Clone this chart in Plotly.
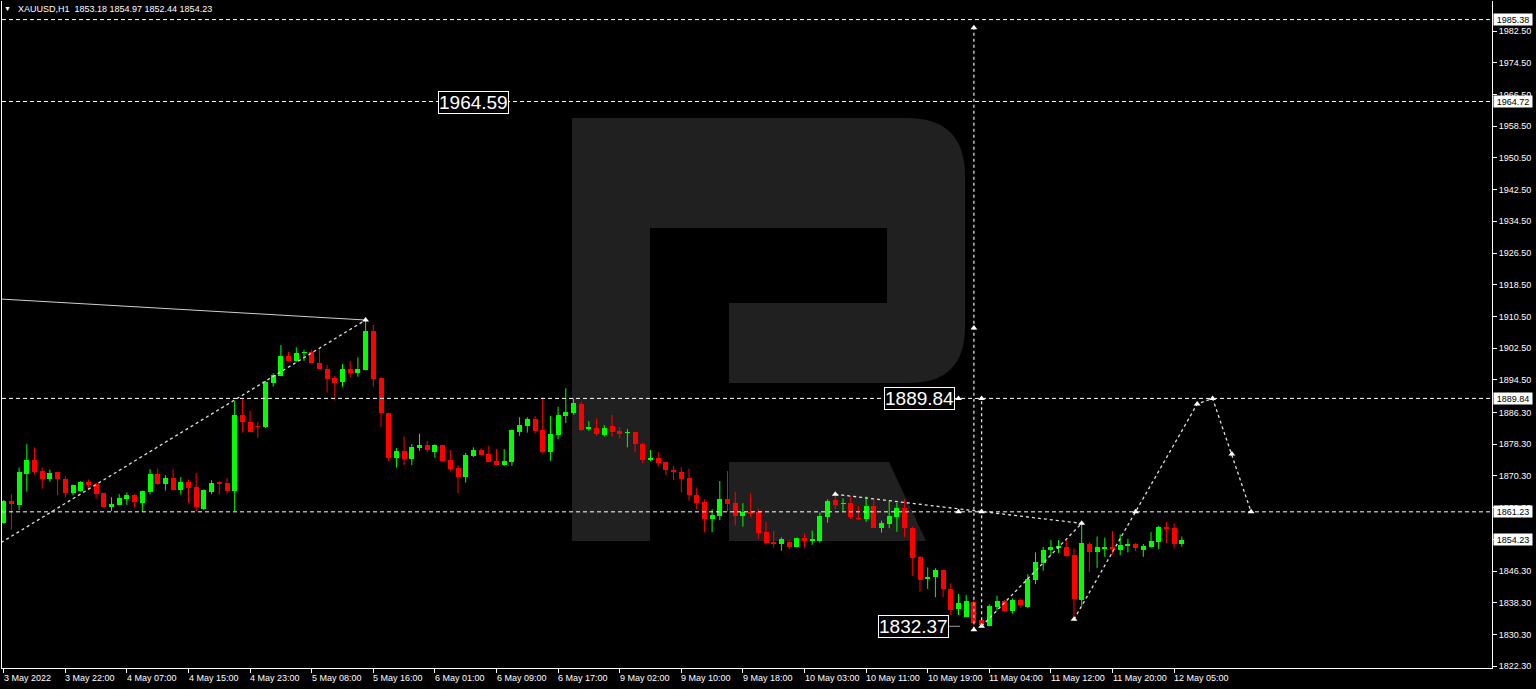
import plotly.graph_objects as go

# ---------------- data ----------------
opens = [1858.4, 1863.9, 1863.0, 1870.8, 1874.3, 1871.6, 1869.5, 1871.2, 1869.6, 1866.0,
         1866.6, 1868.8, 1868.3, 1865.9, 1862.5, 1863.0, 1864.4, 1865.6, 1863.5, 1866.2,
         1870.7, 1868.3, 1869.8, 1866.8, 1868.8, 1867.5, 1861.9, 1866.2, 1868.8, 1868.5,
         1866.6, 1885.7, 1883.8, 1883.0, 1882.6, 1893.8, 1895.5, 1900.5, 1899.3, 1901.2,
         1901.6, 1898.8, 1897.3, 1895.0, 1894.0, 1897.3, 1896.2, 1897.0, 1906.8, 1895.0,
         1886.1, 1874.9, 1876.6, 1874.6, 1877.3, 1878.0, 1876.3, 1878.0, 1874.3, 1872.4,
         1870.0, 1875.3, 1876.8, 1875.8, 1874.1, 1873.0, 1873.8, 1881.4, 1882.9, 1884.7,
         1881.9, 1876.3, 1880.7, 1885.5, 1886.2, 1888.4, 1882.1, 1882.4, 1880.7, 1882.9,
         1881.6, 1881.0, 1881.3, 1878.3, 1874.3, 1874.9, 1873.8, 1871.8, 1871.4, 1869.8,
         1865.6, 1863.7, 1859.4, 1860.3, 1864.5, 1863.5, 1860.3, 1861.1, 1861.1, 1856.1,
         1853.7, 1853.0, 1853.6, 1852.4, 1854.6, 1853.9, 1853.9, 1860.0, 1864.2, 1863.1,
         1863.4, 1859.8, 1859.4, 1862.7, 1857.2, 1858.1, 1860.0, 1862.3, 1857.1, 1849.8,
         1844.3, 1844.9, 1846.6, 1841.8, 1836.7, 1834.7, 1838.6, 1833.9, 1832.5, 1837.3,
         1838.7, 1836.2, 1839.0, 1837.3, 1844.0, 1848.4, 1851.6, 1852.2, 1852.4, 1850.3,
         1839.0, 1853.1, 1851.0, 1851.9, 1852.4, 1851.6, 1852.7, 1853.0, 1851.6, 1852.4,
         1853.7, 1857.5, 1857.2, 1853.18]
highs = [1864.2, 1865.7, 1872.4, 1878.3, 1877.5, 1872.4, 1871.9, 1871.3, 1870.2, 1868.1,
         1869.0, 1869.4, 1868.5, 1866.1, 1864.9, 1865.7, 1866.1, 1865.7, 1866.6, 1872.0,
         1872.1, 1870.5, 1871.9, 1870.0, 1869.4, 1871.0, 1866.9, 1869.2, 1868.9, 1869.8,
         1889.2, 1889.9, 1886.7, 1883.9, 1894.2, 1896.2, 1903.3, 1901.6, 1902.7, 1902.1,
         1902.2, 1902.2, 1898.3, 1895.5, 1898.5, 1899.3, 1900.2, 1909.6, 1908.4, 1895.2,
         1886.2, 1877.3, 1880.2, 1878.3, 1880.9, 1879.1, 1878.3, 1878.1, 1876.8, 1873.0,
         1876.1, 1877.5, 1877.3, 1877.9, 1877.1, 1877.1, 1882.0, 1885.1, 1885.1, 1885.4,
         1890.1, 1885.4, 1887.7, 1892.4, 1889.9, 1889.0, 1884.1, 1884.8, 1883.1, 1885.7,
         1882.6, 1882.1, 1881.4, 1878.7, 1876.8, 1876.3, 1873.9, 1872.8, 1872.5, 1872.1,
         1867.2, 1864.4, 1861.9, 1869.0, 1871.5, 1866.3, 1863.4, 1865.9, 1861.9, 1858.7,
         1856.4, 1854.8, 1854.1, 1854.7, 1855.8, 1856.5, 1861.1, 1864.4, 1865.7, 1864.6,
         1865.2, 1862.7, 1865.1, 1864.2, 1859.0, 1864.0, 1863.5, 1864.4, 1857.5, 1850.1,
         1847.2, 1847.0, 1846.7, 1843.2, 1840.5, 1840.3, 1839.0, 1834.3, 1837.9, 1840.1,
         1839.0, 1839.4, 1839.4, 1845.5, 1851.0, 1852.4, 1854.1, 1854.1, 1854.1, 1852.0,
         1858.3, 1853.5, 1855.0, 1854.7, 1856.4, 1855.6, 1854.4, 1853.3, 1853.1, 1856.1,
         1857.7, 1858.7, 1858.3, 1854.97]
lows = [1858.2, 1856.7, 1861.7, 1866.3, 1870.7, 1867.1, 1868.8, 1865.4, 1864.9, 1865.4,
        1866.3, 1866.7, 1864.6, 1862.4, 1861.4, 1862.9, 1863.0, 1862.3, 1861.2, 1865.6,
        1868.0, 1866.6, 1866.6, 1865.6, 1863.4, 1861.4, 1861.7, 1865.7, 1865.6, 1865.7,
        1861.4, 1881.2, 1881.3, 1879.9, 1882.4, 1892.8, 1895.4, 1899.1, 1899.1, 1899.3,
        1898.7, 1897.2, 1891.3, 1889.3, 1892.8, 1895.1, 1895.3, 1896.9, 1892.8, 1882.6,
        1874.0, 1872.4, 1873.0, 1873.0, 1876.6, 1876.3, 1874.9, 1873.9, 1871.4, 1865.9,
        1868.6, 1875.1, 1875.5, 1873.8, 1872.9, 1872.8, 1872.8, 1880.4, 1881.2, 1881.0,
        1876.0, 1874.1, 1879.5, 1883.6, 1885.7, 1881.6, 1881.6, 1880.4, 1880.2, 1880.2,
        1879.7, 1877.5, 1876.3, 1873.5, 1874.0, 1872.6, 1870.5, 1869.3, 1866.1, 1864.0,
        1861.9, 1856.0, 1856.1, 1859.1, 1861.3, 1857.8, 1857.5, 1859.9, 1854.4, 1853.0,
        1852.2, 1851.4, 1851.9, 1852.3, 1852.2, 1852.9, 1853.5, 1858.5, 1861.9, 1861.4,
        1859.4, 1859.1, 1858.7, 1857.1, 1856.0, 1857.1, 1856.2, 1854.8, 1845.1, 1841.1,
        1841.8, 1839.7, 1839.7, 1835.2, 1835.2, 1834.6, 1832.6, 1832.37, 1832.4, 1836.3,
        1836.0, 1835.6, 1837.1, 1837.0, 1843.0, 1846.4, 1850.3, 1850.9, 1849.9, 1834.1,
        1837.5, 1846.1, 1847.1, 1849.9, 1850.5, 1850.3, 1851.0, 1851.3, 1849.9, 1852.2,
        1851.8, 1853.4, 1852.0, 1852.44]
closes = [1864.0, 1863.3, 1871.2, 1874.3, 1871.4, 1869.5, 1871.1, 1869.4, 1866.0, 1867.9,
          1868.8, 1868.1, 1865.8, 1862.5, 1863.3, 1864.6, 1865.6, 1863.7, 1866.5, 1870.7,
          1868.3, 1869.8, 1866.7, 1868.8, 1867.3, 1862.5, 1866.7, 1868.5, 1868.3, 1866.6,
          1885.7, 1883.9, 1881.4, 1882.6, 1894.0, 1895.7, 1900.5, 1899.3, 1901.3, 1901.5,
          1898.8, 1897.3, 1894.8, 1893.8, 1897.3, 1896.2, 1897.3, 1906.8, 1894.7, 1886.1,
          1874.9, 1876.6, 1874.6, 1877.6, 1878.0, 1876.8, 1878.0, 1874.1, 1872.1, 1870.0,
          1875.6, 1876.8, 1875.6, 1873.9, 1873.0, 1874.1, 1881.9, 1883.1, 1884.7, 1881.6,
          1876.3, 1880.9, 1885.7, 1886.4, 1888.8, 1881.9, 1882.6, 1880.9, 1882.4, 1881.4,
          1880.9, 1881.4, 1878.3, 1874.3, 1874.9, 1873.6, 1871.7, 1871.3, 1869.5, 1865.4,
          1863.4, 1859.4, 1860.5, 1864.5, 1863.2, 1860.3, 1861.1, 1860.8, 1855.9, 1853.3,
          1853.2, 1854.3, 1852.4, 1854.6, 1853.8, 1854.3, 1860.2, 1864.0, 1863.0, 1863.5,
          1859.9, 1859.4, 1862.7, 1857.2, 1858.3, 1860.2, 1862.1, 1857.1, 1849.7, 1844.0,
          1844.9, 1846.6, 1841.7, 1836.5, 1838.2, 1838.7, 1833.3, 1832.8, 1837.5, 1838.7,
          1836.2, 1839.0, 1837.7, 1844.3, 1848.7, 1851.6, 1852.3, 1852.7, 1850.1, 1839.2,
          1853.4, 1851.0, 1852.3, 1852.4, 1851.8, 1852.9, 1853.0, 1852.0, 1852.7, 1853.9,
          1857.3, 1857.0, 1853.2, 1854.23]

time_labels = ["3 May 2022", "3 May 22:00", "4 May 07:00", "4 May 15:00", "4 May 23:00",
               "5 May 08:00", "5 May 16:00", "6 May 01:00", "6 May 09:00", "6 May 17:00",
               "9 May 02:00", "9 May 10:00", "9 May 18:00", "10 May 03:00", "10 May 11:00",
               "10 May 19:00", "11 May 04:00", "11 May 12:00", "11 May 20:00", "12 May 05:00"]
bars_per_label = 8

price_ticks = [1982.50, 1974.50, 1966.50, 1958.50, 1950.50, 1942.50, 1934.50, 1926.50,
               1918.50, 1910.50, 1902.50, 1894.50, 1886.30, 1878.30, 1870.30, 1862.30,
               1854.30, 1846.30, 1838.30, 1830.30, 1822.30]

level_lines = [1985.38, 1964.72, 1889.84, 1861.23]
last_price = 1854.23
title_text = "XAUUSD,H1\u00a0\u00a01853.18 1854.97 1852.44 1854.23"

# drawn objects (bar index, price)
solid_trend_x = [-1, 47]
solid_trend_y = [1914.97, 1909.61]
up_trend_x = [-1, 47]
up_trend_y = [1852.7, 1909.61]
down_trend_x = [108, 140]
down_trend_y = [1865.65, 1858.33]
rebound_x = [127, 140]
rebound_y = [1832.37, 1858.33]
forecast_x = [139, 155, 157, 162]
forecast_y = [1834.12, 1888.43, 1889.84, 1861.23]
vline1_x = [126, 126]
vline1_y = [1831.5, 1983.3]
vline2_x = [127, 127]
vline2_y = [1832.37, 1889.84]
arrow_x = [47, 108, 124, 127, 140, 127, 126, 127, 124, 126, 126, 139, 147, 155, 157, 159.5, 162]
arrow_y = [1909.61, 1865.65, 1861.23, 1861.23, 1858.33, 1832.37, 1831.5, 1889.84, 1889.84,
           1907.6, 1983.3, 1834.12, 1861.23, 1888.43, 1889.84, 1875.8, 1861.23]

text_labels = ["1964.59", "1889.84", "1832.37"]
text_label_x = [61.0, 118.9, 118.1]
text_label_y = [1964.59, 1889.84, 1832.37]

# ---------------- geometry ----------------
W, H = 1536, 689
PL, PR, PT, PB = 2, 1492, 1, 668
BAR0_PX, BAR_STEP = 3.7, 7.7
x_range = [(PL - BAR0_PX) / BAR_STEP, (PR - BAR0_PX) / BAR_STEP]
PX_PER_UNIT = 3.965
REF_PRICE, REF_PY = 1982.5, 31
y_range = [REF_PRICE - (PB - REF_PY) / PX_PER_UNIT, REF_PRICE + (REF_PY - PT) / PX_PER_UNIT]

FONT = "Liberation Sans, Arial, sans-serif"
GREEN, RED = "#00ff00", "#ff0000"

fig = go.Figure()


def P(px, py):
    return f"{(px - PL) / (PR - PL):.5f},{(PB - py) / (PB - PT):.5f}"


# watermark logo
logo_outer = ("M " + P(572, 118) + " L " + P(907, 118) + " Q " + P(965, 118) + " " + P(965, 176) +
              " L " + P(965, 327) + " Q " + P(965, 383) + " " + P(909, 383) + " L " + P(729, 383) +
              " L " + P(729, 303) + " L " + P(887, 303) + " L " + P(887, 228) + " L " + P(650, 228) +
              " L " + P(650, 541) + " L " + P(572, 541) + " Z")
logo_leg = "M " + P(729, 462) + " L " + P(889, 462) + " L " + P(926, 541) + " L " + P(729, 541) + " Z"
for pth in (logo_outer, logo_leg):
    fig.add_shape(type="path", path=pth, xref="paper", yref="paper",
                  fillcolor="#202020", line=dict(width=0), layer="below")

# candles
n = len(opens)
xs = list(range(n))
for up, col in ((True, GREEN), (False, RED)):
    idx = [i for i in xs if (closes[i] >= opens[i]) == up]
    wx, wy = [], []
    for i in idx:
        wx += [i, i, None]
        wy += [lows[i], highs[i], None]
    fig.add_trace(go.Scatter(x=wx, y=wy, mode="lines", line=dict(color=col, width=1),
                             hoverinfo="skip"))
    fig.add_trace(go.Bar(x=idx,
                         y=[max(abs(closes[i] - opens[i]), 0.3) for i in idx],
                         base=[min(opens[i], closes[i]) for i in idx],
                         width=0.65, marker=dict(color=col, line=dict(width=0)),
                         hoverinfo="skip"))

# horizontal level lines
for lv in level_lines:
    fig.add_shape(type="line", xref="paper", yref="y", x0=0, x1=1, y0=lv, y1=lv,
                  line=dict(color="#ffffff", width=1, dash="4px,3px"))

# drawn trend objects
fig.add_trace(go.Scatter(x=solid_trend_x, y=solid_trend_y, mode="lines",
                         line=dict(color="#d0d0d0", width=1), hoverinfo="skip"))
for lx, ly in ((up_trend_x, up_trend_y), (down_trend_x, down_trend_y), (rebound_x, rebound_y),
               (forecast_x, forecast_y), (vline1_x, vline1_y), (vline2_x, vline2_y)):
    fig.add_trace(go.Scatter(x=lx, y=ly, mode="lines",
                             line=dict(color="#e0e0e0", width=1.3, dash="3px,3px"),
                             hoverinfo="skip"))
fig.add_trace(go.Scatter(x=arrow_x, y=arrow_y, mode="markers",
                         marker=dict(symbol="triangle-up", size=6, color="#ffffff",
                                     line=dict(width=0)), hoverinfo="skip"))
# small leader of 1832.37 label
fig.add_shape(type="line", xref="x", yref="y", x0=122.8, x1=124.2, y0=1832.37, y1=1832.37,
              line=dict(color="#a0a0a0", width=1))

annotations = []
# big text labels
for t, lx, ly in zip(text_labels, text_label_x, text_label_y):
    annotations.append(dict(x=lx, y=ly, xref="x", yref="y", text=t, showarrow=False,
                            font=dict(family=FONT, size=19, color="#ffffff"),
                            bgcolor="#000000", bordercolor="#ffffff", borderwidth=1, borderpad=0))
# right price boxes
for pv in level_lines + [last_price]:
    annotations.append(dict(x=1, y=pv, xref="paper", yref="y", xanchor="left", xshift=1,
                            text=f"{pv:.2f}", showarrow=False, width=38, height=11,
                            font=dict(family=FONT, size=9, color="#000000"),
                            bgcolor="#ffffff", borderpad=0))
# time labels
for k, lab in enumerate(time_labels):
    annotations.append(dict(x=k * bars_per_label, y=0, xref="x", yref="paper",
                            xanchor="left", yanchor="top", yshift=-3, xshift=-2,
                            text=lab, showarrow=False,
                            font=dict(family=FONT, size=9, color="#ffffff")))
# title
annotations.append(dict(x=(7 - PL) / (PR - PL), y=(PB - 9) / (PB - PT), xref="paper", yref="paper",
                        xanchor="center", yanchor="middle", text="\u25bc", showarrow=False,
                        font=dict(family=FONT, size=7, color="#ffffff")))
annotations.append(dict(x=(16 - PL) / (PR - PL), y=(PB - 9) / (PB - PT), xref="paper", yref="paper",
                        xanchor="left", yanchor="middle", text=title_text, showarrow=False,
                        font=dict(family=FONT, size=9, color="#ffffff")))

fig.update_layout(
    width=W, height=H,
    margin=dict(l=PL, r=W - PR, t=PT, b=H - PB),
    paper_bgcolor="#000000", plot_bgcolor="#000000",
    showlegend=False, barmode="overlay", bargap=0,
    font=dict(family=FONT, size=9, color="#ffffff"),
    annotations=annotations,
    xaxis=dict(range=x_range, showgrid=False, zeroline=False, showline=True,
               linecolor="#ffffff", linewidth=1, ticks="outside", ticklen=4,
               tickcolor="#ffffff", tickvals=[k * bars_per_label for k in range(len(time_labels))],
               showticklabels=False, fixedrange=True),
    yaxis=dict(range=y_range, side="right", showgrid=False, zeroline=False, showline=True,
               mirror=True, linecolor="#ffffff", linewidth=1, ticks="outside", ticklen=4,
               tickcolor="#ffffff", tickvals=price_ticks,
               ticktext=[f"{v:.2f}" for v in price_ticks],
               tickfont=dict(family=FONT, size=9, color="#ffffff"), fixedrange=True),
)

fig.write_html("out.html", config={"displayModeBar": False, "staticPlot": True},
               post_script="document.body.style.margin='0';document.body.style.overflow='hidden';")
